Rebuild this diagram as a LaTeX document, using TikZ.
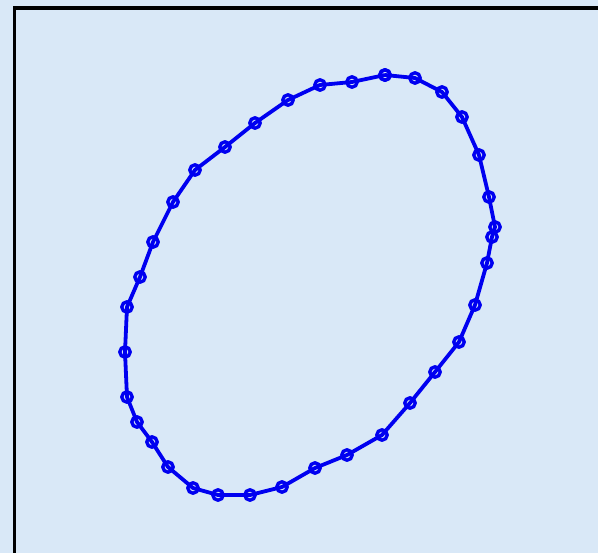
\documentclass[tikz,border=0pt]{standalone}
\usepackage{xcolor}
\usetikzlibrary{plotmarks}
\definecolor{C_BG}   {HTML}{D9E8F7}
\definecolor{C_LINE} {HTML}{0000F0}
\definecolor{C_FRAME}{HTML}{000000}
\tikzset{
  %% -- plot area frame --
  PL/frame/.style={draw=C_FRAME, line width=3.5pt, line cap=rect},
  %% -- traced orbit with circle marks --
  PL/orbit/.style={
    draw=C_LINE, line width=3.8pt, line join=round,
    mark=o, mark size=5.2pt,
    mark options={draw=C_LINE, line width=3.4pt, solid}
  },
}

\begin{document}
\begin{tikzpicture}[x=1pt, y=-1pt]

%% ── Canvas and background ──────────────────────────────────────────────────
\useasboundingbox (0,0) rectangle (598,553);
\fill[C_BG] (0,0) rectangle (598,553);

%% ── Axes frame (top and left edges only visible) ──────────────────────────
\draw[PL/frame] (14.5,553) -- (14.5,8) -- (598,8);

%% ── Sampled points, closed loop ────────────────────────────────────────────
\draw[PL/orbit] plot coordinates {
  (385,75) (415,78) (442,92) (462,117) (479,155) (489,197)
  (495,227) (492,237) (487,263) (475,305) (459,342) (435,372)
  (410,403) (382,435) (347,455) (315,468) (282,487) (250,495)
  (218,495) (193,488) (168,467) (152,442) (137,422) (127,397)
  (125,352) (127,307) (140,277) (153,242) (173,202) (195,170)
  (225,147) (255,123) (288,100) (320,85) (352,82) (385,75)
};

\end{tikzpicture}
\end{document}
